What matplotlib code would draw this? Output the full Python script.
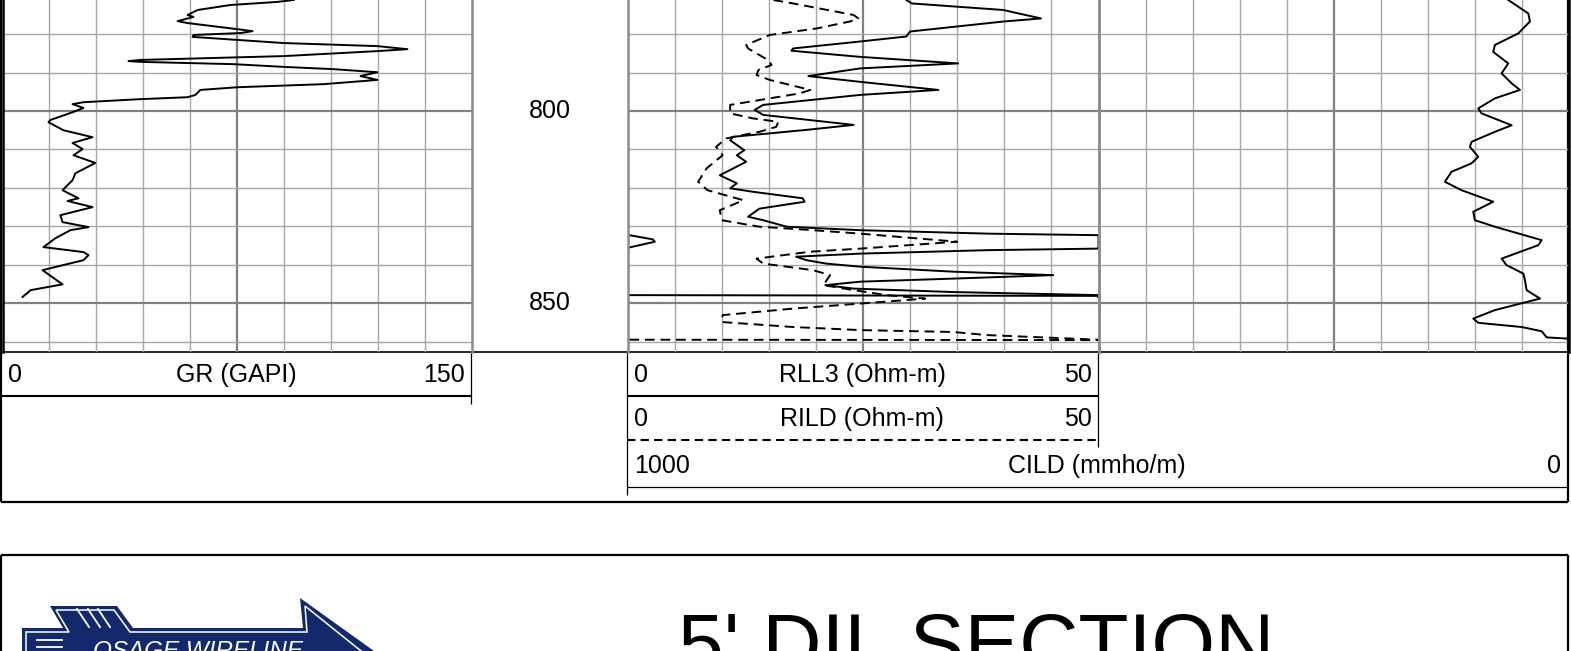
import numpy as np
import matplotlib.pyplot as plt
from matplotlib.patches import Polygon

plt.rcParams['font.family'] = ['Liberation Sans', 'DejaVu Sans']

# ---- curves (depth, value) ----
gr_depth = [771.1, 771.6, 772.4, 773.7, 775.0, 775.5, 776.6, 777.1, 778.7, 779.2, 779.7, 780.2, 780.7,
            782.3, 783.1, 783.9, 784.4, 785.7, 786.7, 787.0, 787.2, 787.8, 788.5, 789.1, 789.9, 790.9,
            791.9, 793.0, 793.8, 794.5, 795.8, 796.4, 796.9, 797.7, 798.2, 799.2, 800.3, 802.3, 802.9,
            805.0, 806.8, 808.3, 809.9, 811.5, 813.5, 816.2, 818.0, 820.6, 822.7, 823.4, 825.0, 827.1,
            828.9, 830.2, 831.0, 833.1, 835.4, 836.7, 837.5, 838.8, 841.4, 845.1, 846.6, 848.4]
gr_value = [93.1, 87.9, 72.9, 62.4, 59.2, 61.1, 56.0, 59.2, 75.2, 80.0, 76.1, 61.1, 60.8,
            89.9, 119.9, 129.5, 119.9, 89.9, 44.1, 40.3, 44.1, 73.9, 89.9, 105.9, 119.9, 114.5,
            119.9, 102.7, 75.2, 63.3, 61.7, 59.2, 44.1, 25.9, 22.4, 25.9, 22.4, 15.4, 14.7,
            19.5, 28.8, 22.4, 25.6, 22.7, 29.7, 23.3, 22.4, 19.2, 24.3, 20.8, 28.8, 18.5,
            19.2, 27.5, 21.7, 16.9, 13.1, 25.9, 27.5, 25.9, 12.8, 19.2, 9.0, 6.4]

rll3_depth = [771.1, 772.0, 773.7, 774.7, 775.9, 776.7, 779.3, 780.6, 781.9, 783.7, 784.3, 785.9,
              787.6, 788.9, 790.9, 792.4, 794.5, 795.8, 798.4, 799.7, 801.0, 803.6, 804.9, 806.7,
              807.6, 810.2, 811.5, 813.2, 816.7, 818.8, 820.1, 821.0, 822.7, 823.6, 825.4, 827.5,
              828.4, 830.1, 831.0, 831.9, 832.3, 833.4, 834.0, 835.5, 835.8, 836.2, 837.1, 837.9,
              838.8, 839.7, 840.5, 841.8, 842.7, 843.6, 844.4, 845.3, 846.2, 847.1, 847.9, 848.1, 848.4]
rll3_value = [29.6, 30.2, 39.9, 41.7, 43.9, 39.9, 30.0, 29.6, 24.7, 17.6, 17.4, 24.7,
              35.1, 24.7, 19.2, 24.7, 33.0, 24.7, 14.4, 13.5, 14.4, 24.0, 19.0, 11.2,
              10.9, 12.4, 11.6, 12.6, 9.8, 11.6, 10.9, 13.3, 18.6, 18.8, 14.0, 12.8,
              14.4, 16.9, 24.7, 38.2, 50.2, 52.7, 52.9, 50.2, 49.9, 38.2, 24.7, 17.9,
              19.0, 21.1, 24.7, 34.6, 45.2, 34.6, 24.7, 21.0, 24.0, 34.6, 50.2, 150.0, 150.0]

rild_depth = [771.1, 772.0, 775.0, 775.9, 776.7, 778.5, 780.2, 782.8, 783.7, 786.7, 788.0, 789.3,
              790.6, 791.9, 794.5, 795.4, 798.4, 800.6, 801.9, 802.8, 804.1, 805.4, 807.1, 809.3,
              811.5, 814.9, 818.4, 820.6, 823.2, 825.8, 828.4, 830.1, 831.0, 831.9, 834.0, 835.8,
              836.6, 838.4, 839.7, 841.4, 842.7, 845.3, 846.6, 847.9, 848.8, 850.1, 851.4, 853.1,
              854.9, 856.2, 857.0, 857.5, 858.3, 859.5, 859.6, 859.8]
rild_value = [15.5, 17.6, 24.0, 24.5, 23.6, 20.1, 15.1, 12.6, 12.8, 14.9, 15.3, 13.9,
              13.7, 15.1, 19.4, 18.3, 10.9, 10.9, 13.3, 16.0, 15.8, 14.0, 10.5, 9.4,
              10.1, 8.4, 7.5, 8.5, 12.3, 9.8, 10.0, 14.0, 19.7, 24.7, 35.0, 24.7,
              19.4, 13.7, 14.4, 19.7, 21.5, 20.8, 24.0, 27.5, 31.6, 24.7, 17.6, 10.1,
              10.0, 17.6, 24.7, 34.6, 38.2, 50.2, 150.0, 150.0]

cild_depth = [771.1, 774.6, 776.7, 779.8, 782.8, 784.6, 787.6, 790.2, 792.8, 794.5, 796.7, 799.3,
              800.6, 803.7, 805.4, 808.0, 809.3, 811.9, 813.6, 815.8, 818.4, 820.6, 823.6, 826.2,
              828.4, 830.1, 833.6, 834.9, 838.4, 840.1, 842.3, 844.0, 846.6, 848.8, 851.8, 854.0,
              855.1, 856.2, 857.3, 858.9, 859.2, 859.6, 862.7]
cild_value = [64.0, 42.7, 41.0, 53.4, 78.2, 80.0, 64.0, 71.1, 60.4, 51.6, 78.2, 95.9,
              92.4, 60.4, 78.2, 103.0, 104.8, 95.9, 103.0, 124.3, 131.4, 113.6, 80.0, 101.2,
              99.5, 78.2, 28.5, 32.1, 71.1, 65.8, 48.0, 46.3, 44.5, 30.3, 78.2, 101.2,
              95.9, 49.8, 28.5, 23.2, 1.9, 0.3, 0.0]

depth_labels = [800, 850]
top_depth, bottom_depth = 771.1, 862.7

W, H = 1571, 651
fig = plt.figure(figsize=(W / 100, H / 100), dpi=100)


def add_px_axes(x0, y0, x1, y1):
    return fig.add_axes([x0 / W, 1 - y1 / H, (x1 - x0) / W, (y1 - y0) / H])


# background axes in pixel units for frames, headers and title block
bg = add_px_axes(0, 0, W, H)
bg.set_xlim(0, W)
bg.set_ylim(H, 0)
bg.axis('off')

TB = 352  # bottom of the tracks
T1 = (2.5, 471.5)
T2 = (627.5, 1098.5)
T3 = (1098.5, 1568.5)


def grid_track(x0, x1, xmax):
    ax = add_px_axes(x0, 0, x1, TB)
    ax.set_facecolor('none')
    ax.set_xlim(0, xmax)
    ax.set_ylim(bottom_depth, top_depth)
    ax.set_xticks([xmax / 2])
    ax.set_xticks(np.linspace(0, xmax, 11), minor=True)
    ax.set_yticks(depth_labels)
    ax.set_yticks(np.arange(780, 861, 10), minor=True)
    ax.tick_params(which='both', length=0, labelbottom=False, labelleft=False)
    ax.grid(which='minor', color='#a8a8a8', lw=1.0)
    ax.grid(which='major', color='#808080', lw=1.6)
    for s in ('top', 'bottom'):
        ax.spines[s].set_visible(False)
    for s in ('left', 'right'):
        ax.spines[s].set_color('#8c8c8c')
        ax.spines[s].set_linewidth(1.8)
    return ax


ax1 = grid_track(*T1, 150)
ax2 = grid_track(*T2, 50)
ax3 = grid_track(*T3, 10)
ax1.spines['left'].set_color('black')
ax3.spines['right'].set_color('black')

# depth column
axd = add_px_axes(T1[1], 0, T2[0], TB)
axd.set_ylim(bottom_depth, top_depth)
axd.axis('off')
for d in depth_labels:
    axd.text(0.5, d, str(d), transform=axd.get_yaxis_transform(), ha='center', va='center', fontsize=18)

# GR
ax1.plot(gr_value, gr_depth, color='black', lw=1.4)

# resistivity with backup (wrap) curves
def wrap(vals, scale=50):
    v = np.array(vals)
    main = np.clip(v, 0, scale)
    backup = np.where(v > scale, np.clip(v - scale, 0, scale), np.nan)
    return main, backup

rll3_main, rll3_back = wrap(rll3_value)
rild_main, rild_back = wrap(rild_value)
ax2.plot(rll3_main, rll3_depth, color='black', lw=1.4)
ax2.plot(rll3_back, rll3_depth, color='black', lw=1.4)
ax2.plot(rild_main, rild_depth, color='black', lw=1.4, ls='--', dashes=(5, 3))
ax2.plot(rild_back, rild_depth, color='black', lw=1.4, ls='--', dashes=(5, 3))

# CILD spans tracks 2 and 3, reversed scale
axc = add_px_axes(T2[0], 0, T3[1], TB)
axc.set_facecolor('none')
axc.set_xlim(1000, 0)
axc.set_ylim(bottom_depth, top_depth)
axc.axis('off')
axc.plot(cild_value, cild_depth, color='black', lw=1.4)

# ---- header / frame ----
k = dict(color='black', solid_capstyle='butt')
bg.plot([1.5, 1568.5], [TB, TB], lw=1.2, **k)
bg.plot([1.5, 1.5], [0, 501.5], lw=1.6, **k)
bg.plot([1568.5, 1568.5], [0, 501.5], lw=1.6, **k)
bg.plot([1.5, 1568.5], [501.5, 501.5], lw=1.6, **k)

bg.plot([T1[0], T1[1]], [396, 396], lw=1.5, **k)
bg.plot([T1[1], T1[1]], [TB, 404], lw=0.9, **k)
bg.plot([T2[0], T2[1]], [396, 396], lw=1.5, **k)
bg.plot([T2[0], T2[1]], [440, 440], lw=1.5, ls='--', dashes=(4, 2.5), color='black')
bg.plot([T2[1], T2[1]], [TB, 447], lw=0.9, **k)
bg.plot([T2[0], T3[1]], [487, 487], lw=0.9, **k)
bg.plot([T2[0], T2[0]], [TB, 495], lw=0.9, **k)

fs = 18
bg.text(8, 375, '0', ha='left', va='center', fontsize=fs)
bg.text(236, 375, 'GR (GAPI)', ha='center', va='center', fontsize=fs)
bg.text(465, 375, '150', ha='right', va='center', fontsize=fs)
bg.text(634, 375, '0', ha='left', va='center', fontsize=fs)
bg.text(862, 375, 'RLL3 (Ohm-m)', ha='center', va='center', fontsize=fs)
bg.text(1092, 375, '50', ha='right', va='center', fontsize=fs)
bg.text(634, 419, '0', ha='left', va='center', fontsize=fs)
bg.text(862, 419, 'RILD (Ohm-m)', ha='center', va='center', fontsize=fs)
bg.text(1092, 419, '50', ha='right', va='center', fontsize=fs)
bg.text(634, 466, '1000', ha='left', va='center', fontsize=fs)
bg.text(1097, 466, 'CILD (mmho/m)', ha='center', va='center', fontsize=fs)
bg.text(1561, 466, '0', ha='right', va='center', fontsize=fs)

# ---- title block ----
bg.plot([1.5, 1568.5], [555, 555], lw=1.6, **k)
bg.plot([1.5, 1.5], [555, 651], lw=1.6, **k)
bg.plot([1568.5, 1568.5], [555, 651], lw=1.6, **k)

navy = '#13296b'
logo = [(22, 628), (63, 628), (50, 606), (117, 606), (133, 628), (303, 628),
        (300, 598), (374, 651), (374, 670), (22, 670)]
bg.add_patch(Polygon(logo, closed=True, facecolor=navy, edgecolor='none'))
inner = [(26, 670), (26, 632), (69, 632), (56, 610), (114, 610), (130, 632),
         (307, 632), (305, 606), (366, 655)]
bg.add_patch(Polygon(inner, closed=False, facecolor='none', edgecolor='white', lw=1.1))
for x in (77, 88, 98):
    bg.plot([x, x + 12], [609, 627], color='white', lw=1.3)
for y in (640, 647):
    bg.plot([37, 62], [y, y], color='white', lw=1.3)
bg.text(93, 658, 'OSAGE WIRELINE', color='white', fontsize=17.5, style='italic',
        ha='left', va='baseline', clip_on=False)

bg.text(678, 671, "5' DIL SECTION", fontsize=59, ha='left', va='baseline', clip_on=False)

fig.savefig('out.png', dpi=100)
